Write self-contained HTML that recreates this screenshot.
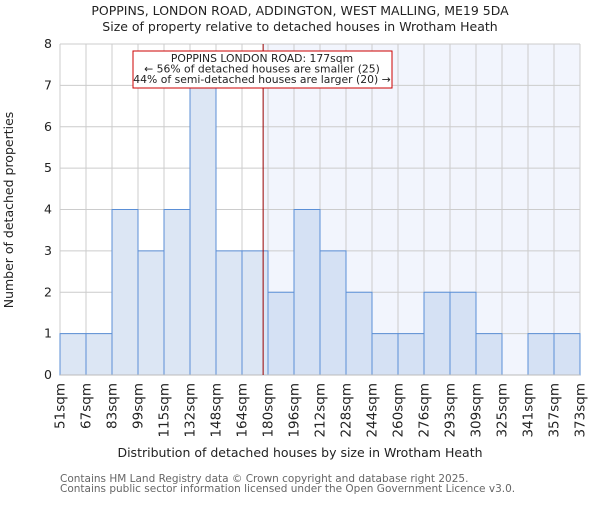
<!DOCTYPE html>
<html><head><meta charset="utf-8"><style>body{margin:0;background:#fff}svg{font-family:"DejaVu Sans","Liberation Sans",sans-serif}</style></head>
<body>
<svg id="c" width="600" height="500">
<text x="300" y="15" text-anchor="middle" font-size="12.5" fill="#222">POPPINS, LONDON ROAD, ADDINGTON, WEST MALLING, ME19 5DA</text>
<text x="300" y="31" text-anchor="middle" font-size="12.5" fill="#222">Size of property relative to detached houses in Wrotham Heath</text>
<text x="300" y="457" text-anchor="middle" font-size="12.5" fill="#222">Distribution of detached houses by size in Wrotham Heath</text>
<text transform="translate(13,210) rotate(-90)" text-anchor="middle" font-size="12.5" fill="#222">Number of detached properties</text>
<text x="60" y="482" font-size="10.5" fill="#666">Contains HM Land Registry data © Crown copyright and database right 2025.</text>
<text x="60" y="492" font-size="10.5" fill="#666">Contains public sector information licensed under the Open Government Licence v3.0.</text>
<g id="plot"></g>
</svg>
<script>
const binLabels=["51sqm","67sqm","83sqm","99sqm","115sqm","132sqm","148sqm","164sqm","180sqm","196sqm","212sqm","228sqm","244sqm","260sqm","276sqm","293sqm","309sqm","325sqm","341sqm","357sqm","373sqm"];
const counts=[1,1,4,3,4,7,3,3,2,4,3,2,1,1,2,2,1,0,1,1];
const yTicks=[0,1,2,3,4,5,6,7,8];
const markerBin=7+13/16;
const NS="http://www.w3.org/2000/svg";
const g=document.getElementById('plot');
const X0=60,X1=580,Y0=375,Y1=44;
const bw=(X1-X0)/counts.length;
const xs=i=>X0+i*bw;
const ys=v=>Y0-(v/8)*(Y0-Y1);
function el(t,a){const e=document.createElementNS(NS,t);for(const k in a)e.setAttribute(k,a[k]);g.appendChild(e);return e;}
const mx=xs(markerBin);
let r=el('rect',{x:mx,y:Y1,width:X1-mx,height:Y0-Y1,fill:'#f2f5fd'});


for(const t of yTicks){
 let l=el('line',{x1:X0,x2:X1,y1:ys(t),y2:ys(t),stroke:'#ccc','stroke-width':1});
 
 
 let tx=el('text',{x:X0-8,y:ys(t)+4,'text-anchor':'end','font-size':12.5,fill:'#222'});
 tx.textContent=t;
 
 
}
for(let i=0;i<binLabels.length;i++){
 let l=el('line',{x1:xs(i),x2:xs(i),y1:Y1,y2:Y0,stroke:'#ccc','stroke-width':1});
 
 
 let tx=el('text',{transform:`translate(${xs(i)+4.5},${Y0+8}) rotate(-90)`,'text-anchor':'end','font-size':13.5,fill:'#222'});
 tx.textContent=binLabels[i];
 
 
}
counts.forEach((c,i)=>{
 if(c<=0)return;
 let b=el('rect',{x:xs(i),y:ys(c),width:bw,height:Y0-ys(c),fill:i>=8?'#d5e1f4':'#dce6f4',stroke:'#5b8fd6','stroke-width':1});
 
 
});
let ax=el('line',{x1:X0,x2:X1,y1:Y0,y2:Y0,stroke:'#bbb','stroke-width':1});


let m=el('line',{x1:mx,x2:mx,y1:Y1,y2:Y0,stroke:'#900','stroke-width':1});


let box=el('rect',{x:133,y:51,width:259,height:37,fill:'#fff',stroke:'#c00','stroke-width':1});


["POPPINS LONDON ROAD: 177sqm","← 56% of detached houses are smaller (25)","44% of semi-detached houses are larger (20) →"].forEach((s,k)=>{
 let t=el('text',{x:262,y:62+k*10.5,'text-anchor':'middle','font-size':10.8,fill:'#222'});
 t.textContent=s;
 
 
});
</script>
</body></html>
